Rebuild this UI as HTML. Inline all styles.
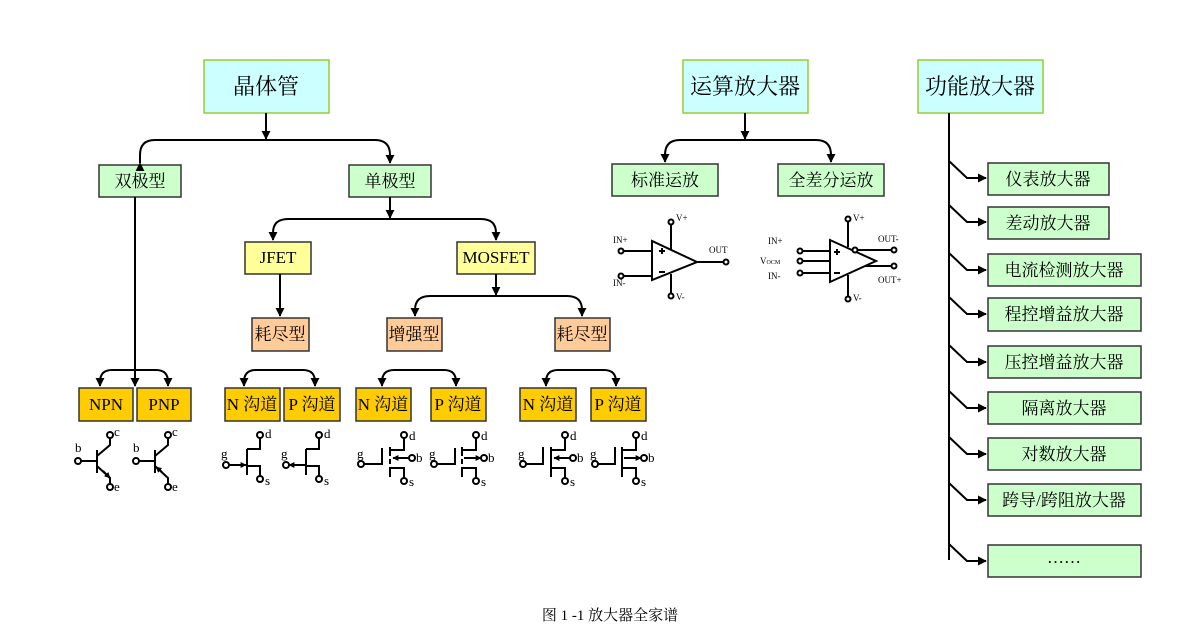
<!DOCTYPE html>
<html><head><meta charset="utf-8"><style>
html,body{margin:0;padding:0;background:#fff;}
svg{display:block}
text{font-family:"Liberation Serif","Noto Serif CJK SC",serif;fill:#000}
.b{stroke:#333;stroke-width:1.5}
.c{stroke:#000;stroke-width:2;fill:none}
.s{stroke:#000;stroke-width:2;fill:none}
.o{stroke:#000;stroke-width:2;fill:#fff}
</style></head><body>
<svg width="1202" height="642" viewBox="0 0 1202 642" xmlns="http://www.w3.org/2000/svg">
<defs>
<marker id="a" viewBox="0 0 10 10" refX="9" refY="5" markerWidth="4.5" markerHeight="4.5" orient="auto"><path d="M0,0 L10,5 L0,10 z" fill="#000"/></marker>
<marker id="sa" viewBox="0 0 10 10" refX="9" refY="5" markerWidth="3" markerHeight="3" orient="auto"><path d="M0,0 L10,5 L0,10 z" fill="#000"/></marker>
</defs>

<!-- top boxes -->
<rect x="204" y="60" width="125" height="53" fill="#ccffff" stroke="#99cc33" stroke-width="1.5"/>
<text x="266" y="94" font-size="22" text-anchor="middle">晶体管</text>
<rect x="683" y="60" width="125" height="53" fill="#ccffff" stroke="#99cc33" stroke-width="1.5"/>
<text x="745" y="94" font-size="22" text-anchor="middle">运算放大器</text>
<rect x="918" y="60" width="125" height="53" fill="#ccffff" stroke="#99cc33" stroke-width="1.5"/>
<text x="980" y="94" font-size="22" text-anchor="middle">功能放大器</text>

<!-- level 2 -->
<g font-size="17" text-anchor="middle">
<rect class="b" x="99" y="165" width="82" height="32" fill="#ccffcc"/><text x="140" y="187">双极型</text>
<rect class="b" x="349" y="165" width="82" height="32" fill="#ccffcc"/><text x="390" y="187">单极型</text>
<rect class="b" x="612" y="164" width="106" height="32" fill="#ccffcc"/><text x="665" y="186">标准运放</text>
<rect class="b" x="778" y="164" width="106" height="32" fill="#ccffcc"/><text x="831" y="186">全差分运放</text>

<rect class="b" x="245" y="242" width="66" height="32" fill="#ffff99"/><text x="278" y="263">JFET</text>
<rect class="b" x="457" y="242" width="78" height="32" fill="#ffff99"/><text x="496" y="263">MOSFET</text>

<rect class="b" x="252" y="318" width="57" height="33" fill="#ffcc99"/><text x="280" y="340">耗尽型</text>
<rect class="b" x="387" y="318" width="55" height="33" fill="#ffcc99"/><text x="414" y="340">增强型</text>
<rect class="b" x="555" y="318" width="55" height="33" fill="#ffcc99"/><text x="582" y="340">耗尽型</text>

<rect class="b" x="79" y="388" width="54" height="33" fill="#ffcc00"/><text x="106" y="410">NPN</text>
<rect class="b" x="137" y="388" width="54" height="33" fill="#ffcc00"/><text x="164" y="410">PNP</text>
<rect class="b" x="225" y="388" width="55" height="33" fill="#ffcc00"/><text x="252" y="410">N 沟道</text>
<rect class="b" x="284" y="388" width="56" height="33" fill="#ffcc00"/><text x="312" y="410">P 沟道</text>
<rect class="b" x="356" y="388" width="55" height="33" fill="#ffcc00"/><text x="383" y="410">N 沟道</text>
<rect class="b" x="431" y="388" width="55" height="33" fill="#ffcc00"/><text x="458" y="410">P 沟道</text>
<rect class="b" x="520" y="388" width="56" height="33" fill="#ffcc00"/><text x="548" y="410">N 沟道</text>
<rect class="b" x="591" y="388" width="55" height="33" fill="#ffcc00"/><text x="618" y="410">P 沟道</text>
</g>

<!-- connectors -->
<g class="c">
<path d="M266,113 V139" marker-end="url(#a)"/>
<path d="M140,163 V155 Q140,140 155,140 H375 Q390,140 390,155 V163" marker-end="url(#a)"/>
<path d="M140,163 V155" marker-start="url(#a)"/>
<path d="M390,197 V218" marker-end="url(#a)"/>
<path d="M273,240 V233 Q273,219 288,219 H481 Q496,219 496,233 V240" marker-end="url(#a)"/>
<path d="M273,234 V240" marker-end="url(#a)"/>
<path d="M280,274 V316" marker-end="url(#a)"/>
<path d="M496,274 V295" marker-end="url(#a)"/>
<path d="M415,316 V310 Q415,296 430,296 H567 Q582,296 582,310 V316" marker-end="url(#a)"/>
<path d="M415,310 V316" marker-end="url(#a)"/>
<path d="M135,197 V386" marker-end="url(#a)"/>
<path d="M100,386 V382 Q100,370 112,370 H156 Q168,370 168,382 V386" marker-end="url(#a)"/>
<path d="M100,382 V386" marker-end="url(#a)"/>
<path d="M244,386 V382 Q244,370 256,370 H303 Q315,370 315,382 V386" marker-end="url(#a)"/>
<path d="M244,382 V386" marker-end="url(#a)"/>
<path d="M382,386 V382 Q382,370 394,370 H444 Q456,370 456,382 V386" marker-end="url(#a)"/>
<path d="M382,382 V386" marker-end="url(#a)"/>
<path d="M546,386 V382 Q546,370 558,370 H604 Q616,370 616,382 V386" marker-end="url(#a)"/>
<path d="M546,382 V386" marker-end="url(#a)"/>
<path d="M745,113 V139" marker-end="url(#a)"/>
<path d="M665,162 V155 Q665,140 680,140 H816 Q831,140 831,155 V162" marker-end="url(#a)"/>
<path d="M665,155 V162" marker-end="url(#a)"/>
<path d="M949,113 V560"/>
</g>

<!-- right list -->
<g font-size="17" text-anchor="middle">
<rect class="b" x="988" y="163" width="121" height="32" fill="#ccffcc"/><text x="1048" y="185">仪表放大器</text>
<rect class="b" x="988" y="207" width="121" height="32" fill="#ccffcc"/><text x="1048" y="229">差动放大器</text>
<rect class="b" x="988" y="254" width="153" height="32" fill="#ccffcc"/><text x="1064" y="276">电流检测放大器</text>
<rect class="b" x="988" y="298" width="153" height="33" fill="#ccffcc"/><text x="1064" y="320">程控增益放大器</text>
<rect class="b" x="988" y="346" width="153" height="32" fill="#ccffcc"/><text x="1064" y="368">压控增益放大器</text>
<rect class="b" x="988" y="392" width="153" height="32" fill="#ccffcc"/><text x="1064" y="414">隔离放大器</text>
<rect class="b" x="988" y="438" width="153" height="32" fill="#ccffcc"/><text x="1064" y="460">对数放大器</text>
<rect class="b" x="988" y="484" width="153" height="32" fill="#ccffcc"/><text x="1064" y="506">跨导/跨阻放大器</text>
<rect class="b" x="988" y="545" width="153" height="32" fill="#ccffcc"/><text x="1064" y="563">……</text>
</g>
<g class="c">
<path d="M949,161 L967,178 H986" marker-end="url(#a)"/>
<path d="M949,205 L967,222 H986" marker-end="url(#a)"/>
<path d="M949,253 L967,270 H986" marker-end="url(#a)"/>
<path d="M949,297 L967,314 H986" marker-end="url(#a)"/>
<path d="M949,345 L967,362 H986" marker-end="url(#a)"/>
<path d="M949,391 L967,408 H986" marker-end="url(#a)"/>
<path d="M949,437 L967,454 H986" marker-end="url(#a)"/>
<path d="M949,483 L967,500 H986" marker-end="url(#a)"/>
<path d="M949,544 L967,561 H986" marker-end="url(#a)"/>
</g>

<!-- BJT symbols -->
<g font-size="13">
<g class="s">
<path d="M80,461 H97 M97,450 V473 M97,456 L110,445 V437 M97,466 L110,478 V485"/>
<path d="M103,471 L110,478" marker-end="url(#sa)"/>
<path d="M137,461 H155 M155,450 V473 M155,456 L168,445 V437 M155,466 L168,478 V485"/>
<path d="M162,472 L156,467" marker-end="url(#sa)"/>
</g>
<circle class="o" cx="78" cy="461" r="3"/><circle class="o" cx="110" cy="435" r="3"/><circle class="o" cx="110" cy="487" r="3"/>
<circle class="o" cx="136" cy="461" r="3"/><circle class="o" cx="168" cy="435" r="3"/><circle class="o" cx="168" cy="487" r="3"/>
<text x="75" y="452">b</text><text x="114" y="436">c</text><text x="114" y="491">e</text>
<text x="133" y="452">b</text><text x="172" y="436">c</text><text x="172" y="491">e</text>

<!-- JFET -->
<g class="s">
<path d="M228,465 H246" marker-end="url(#sa)"/>
<path d="M247,449 V475 M247,449 H260 V437 M247,466 H260 V477"/>
<path d="M305,465 H289" marker-end="url(#sa)"/>
<path d="M306,449 V475 M306,449 H319 V437 M306,466 H319 V477"/>
</g>
<circle class="o" cx="226" cy="465" r="3"/><circle class="o" cx="260" cy="435" r="3"/><circle class="o" cx="260" cy="479" r="3"/>
<circle class="o" cx="286" cy="465" r="3"/><circle class="o" cx="319" cy="435" r="3"/><circle class="o" cx="319" cy="479" r="3"/>
<text x="221" y="458">g</text><text x="265" y="438">d</text><text x="265" y="485">s</text>
<text x="281" y="458">g</text><text x="324" y="438">d</text><text x="324" y="485">s</text>

<!-- MOSFETs -->
<g class="s">
<path d="M360,464 H382 V448"/>
<path d="M390,447 V456 M390,459 V464 M390,467 V477 M390,450 H404 V437 M390,468 H404 V479"/>
<path d="M410,458 H393" marker-end="url(#sa)"/>
<path d="M433,464 H455 V448"/>
<path d="M462,447 V456 M462,459 V464 M462,467 V477 M462,450 H476 V437 M462,468 H476 V479"/>
<path d="M464,458 H481" marker-end="url(#sa)"/>
<path d="M522,464 H543 V447"/>
<path d="M551,447 V477 M551,450 H565 V437 M551,468 H565 V479"/>
<path d="M571,458 H554" marker-end="url(#sa)"/>
<path d="M594,464 H615 V447"/>
<path d="M622,447 V477 M622,450 H636 V437 M622,468 H636 V479"/>
<path d="M624,458 H641" marker-end="url(#sa)"/>
</g>
<circle class="o" cx="361" cy="464" r="3"/><circle class="o" cx="404" cy="435" r="3"/><circle class="o" cx="404" cy="481" r="3"/><circle class="o" cx="412" cy="458" r="3"/>
<circle class="o" cx="434" cy="464" r="3"/><circle class="o" cx="476" cy="435" r="3"/><circle class="o" cx="476" cy="481" r="3"/><circle class="o" cx="484" cy="458" r="3"/>
<circle class="o" cx="523" cy="464" r="3"/><circle class="o" cx="565" cy="435" r="3"/><circle class="o" cx="565" cy="481" r="3"/><circle class="o" cx="573" cy="458" r="3"/>
<circle class="o" cx="595" cy="464" r="3"/><circle class="o" cx="636" cy="435" r="3"/><circle class="o" cx="636" cy="481" r="3"/><circle class="o" cx="644" cy="458" r="3"/>
<text x="357" y="458">g</text><text x="409" y="440">d</text><text x="416" y="462">b</text><text x="409" y="486">s</text>
<text x="429" y="458">g</text><text x="481" y="440">d</text><text x="488" y="462">b</text><text x="481" y="486">s</text>
<text x="518" y="458">g</text><text x="570" y="440">d</text><text x="577" y="462">b</text><text x="570" y="486">s</text>
<text x="590" y="458">g</text><text x="641" y="440">d</text><text x="648" y="462">b</text><text x="641" y="486">s</text>
</g>

<!-- op amps -->
<g class="s">
<path d="M652,241 V280 L697,262 Z"/>
<path d="M623,251 H652 M623,276 H652 M697,262 H724 M671,224 V249 M671,274 V294"/>
<path d="M659,251 H665 M662,248 V254 M659,272 H665"/>
<path d="M830,240 V282 L876,261 Z"/>
<path d="M802,251 H830 M802,261 H830 M802,273 H830 M848,221 V247 M848,275 V297 M855,250 H892 M865,266 H892"/>
<path d="M834,252 H840 M837,249 V255 M834,273 H840"/>
</g>
<circle class="o" cx="621" cy="251" r="2.5"/><circle class="o" cx="621" cy="276" r="2.5"/><circle class="o" cx="726" cy="262" r="2.5"/><circle class="o" cx="671" cy="222" r="2.5"/><circle class="o" cx="671" cy="296" r="2.5"/>
<circle class="o" cx="800" cy="251" r="2.5"/><circle class="o" cx="800" cy="261" r="2.5"/><circle class="o" cx="800" cy="273" r="2.5"/><circle class="o" cx="848" cy="219" r="2.5"/><circle class="o" cx="848" cy="299" r="2.5"/><circle class="o" cx="894" cy="250" r="2.5"/><circle class="o" cx="894" cy="266" r="2.5"/><circle class="o" cx="855" cy="250" r="2.5"/>
<g font-size="9">
<text x="613" y="243">IN+</text><text x="613" y="286">IN-</text><text x="709" y="253">OUT</text><text x="676" y="221">V+</text><text x="676" y="300">V-</text>
<text x="768" y="244">IN+</text><text x="760" y="264">V<tspan font-size="6">OCM</tspan></text><text x="768" y="279">IN-</text><text x="878" y="242">OUT-</text><text x="878" y="283">OUT+</text><text x="853" y="221">V+</text><text x="853" y="301">V-</text>
</g>

<text x="610" y="620" font-size="15" text-anchor="middle">图 1 -1 放大器全家谱</text>
</svg>
</body></html>
